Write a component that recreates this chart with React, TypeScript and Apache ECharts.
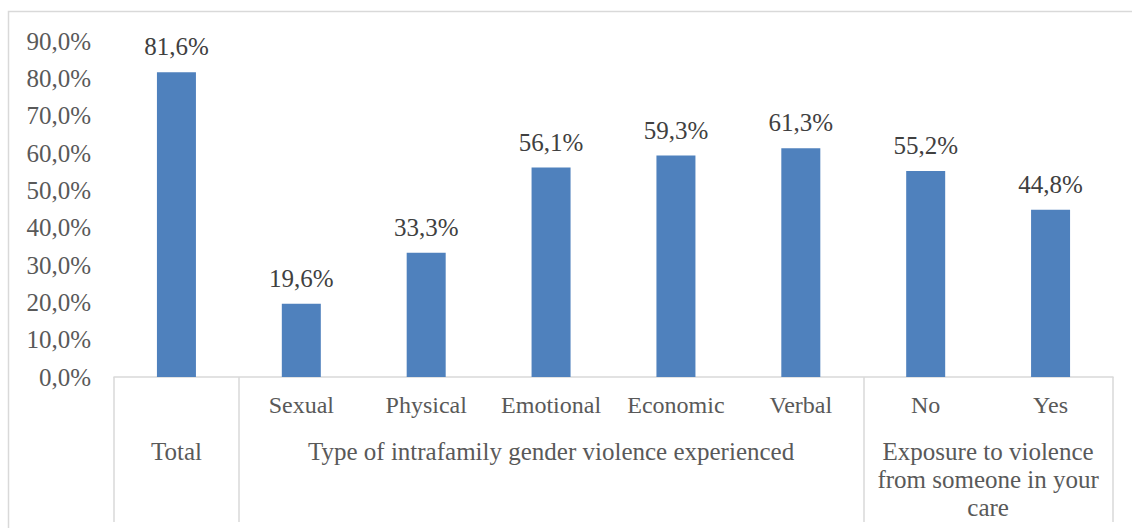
import React, { useEffect, useRef } from "react";
import * as echarts from "echarts";

// Share of respondents by category (percent)
const categories = ["", "Sexual", "Physical", "Emotional", "Economic", "Verbal", "No", "Yes"];
const values = [81.6, 19.6, 33.3, 56.1, 59.3, 61.3, 55.2, 44.8];

// Group headings, placed at the centre of the categories they span
const groupLabels = ["Total", "Type of intrafamily gender violence experienced", "Exposure to violence\nfrom someone in your\ncare"];
const groupCenters = [0.5, 3.5, 7];
// Boundaries between groups, in category units
const groupBounds = [0, 1, 6, 8];

const FONT = "'Liberation Serif', 'Times New Roman', serif";
const GRAY = "#d9d9d9";

const pct = (v: number) => v.toFixed(1).replace(".", ",") + "%";

export default function App() {
  const ref = useRef<HTMLDivElement>(null);

  useEffect(() => {
    if (!ref.current) return;
    const chart = echarts.init(ref.current, null, { renderer: "svg" });
    chart.setOption({
      animation: false,
      backgroundColor: "#ffffff",
      textStyle: { fontFamily: FONT },
      grid: { left: 114, right: 19, top: 41, bottom: 151, containLabel: false },
      graphic: [
        {
          type: "rect",
          shape: { x: 8.5, y: 11.5, width: 1200, height: 600 },
          style: { fill: "none", stroke: GRAY, lineWidth: 1.5 },
          silent: true,
        },
      ],
      xAxis: [
        {
          type: "category",
          data: categories,
          axisLine: { show: true, lineStyle: { color: GRAY, width: 1.5 } },
          axisTick: { show: false },
          axisLabel: {
            interval: 0,
            margin: 14,
            color: "#595959",
            fontFamily: FONT,
            fontSize: 24,
            lineHeight: 28,
          },
        },
        {
          type: "value",
          min: 0,
          max: 8,
          position: "bottom",
          axisLine: { show: false },
          splitLine: { show: false },
          axisTick: {
            show: true,
            customValues: groupBounds,
            length: 145,
            lineStyle: { color: GRAY, width: 1.5 },
          },
          axisLabel: {
            customValues: groupCenters,
            margin: 60,
            color: "#595959",
            fontFamily: FONT,
            fontSize: 25,
            lineHeight: 28,
            align: "center",
            formatter: (v: number) => {
              const i = groupCenters.indexOf(v);
              return i >= 0 ? groupLabels[i] : "";
            },
          },
        },
      ],
      yAxis: {
        type: "value",
        min: 0,
        max: 90,
        interval: 10,
        axisLine: { show: false },
        axisTick: { show: false },
        splitLine: { show: false },
        axisLabel: {
          margin: 23,
          color: "#595959",
          fontFamily: FONT,
          fontSize: 25,
          formatter: (v: number) => pct(v),
        },
      },
      series: [
        {
          type: "bar",
          data: values,
          barWidth: 39,
          itemStyle: { color: "#4f81bd" },
          label: {
            show: true,
            position: "top",
            distance: 13,
            color: "#404040",
            fontFamily: FONT,
            fontSize: 25,
            formatter: (p: any) => pct(p.value),
          },
        },
      ],
    });
    return () => chart.dispose();
  }, []);

  return (
    <div
      ref={ref}
      style={{ position: "absolute", left: 0, top: 0, width: 1132, height: 528 }}
    />
  );
}
